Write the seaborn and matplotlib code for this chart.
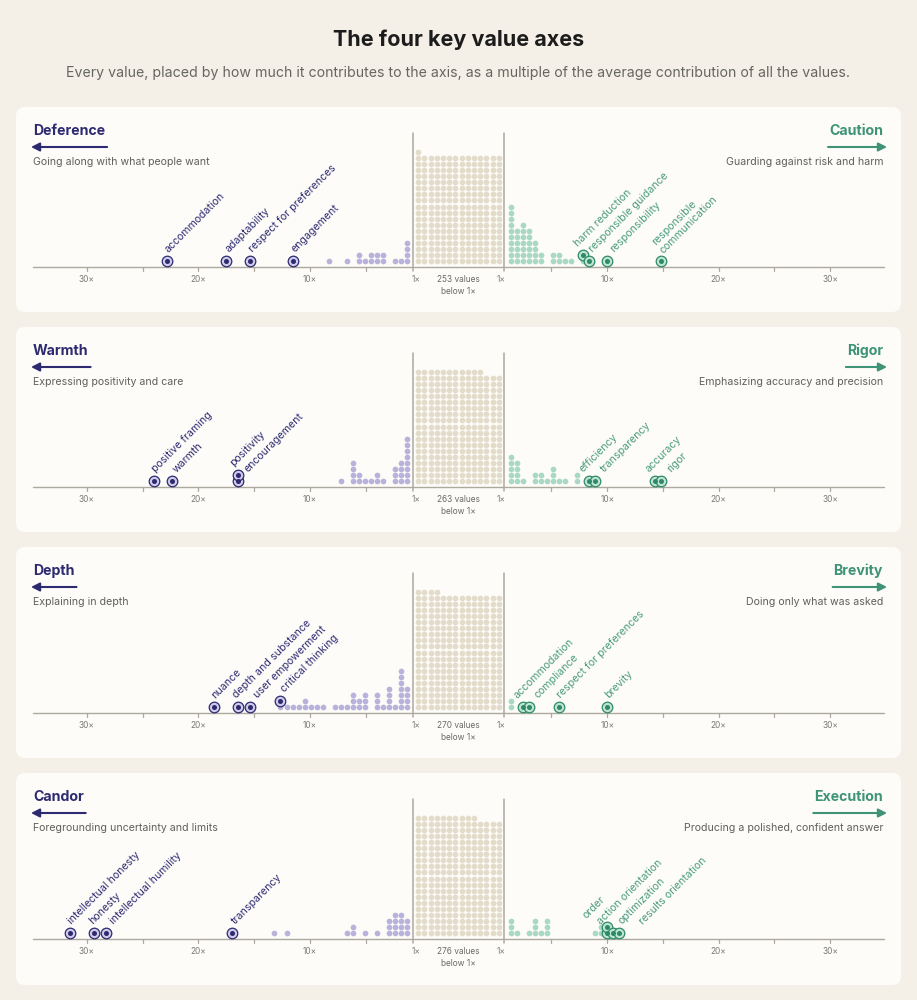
import numpy as np
import pandas as pd
import matplotlib
matplotlib.use("Agg")
import matplotlib.pyplot as plt
import seaborn as sns
from matplotlib.patches import FancyBboxPatch
from matplotlib.transforms import IdentityTransform

# ---- values (multiples of the average contribution) ----
titles_left = ["Deference", "Warmth", "Depth", "Candor"]
titles_right = ["Caution", "Rigor", "Brevity", "Execution"]
subs_left = ["Going along with what people want", "Expressing positivity and care",
             "Explaining in depth", "Foregrounding uncertainty and limits"]
subs_right = ["Guarding against risk and harm", "Emphasizing accuracy and precision",
              "Doing only what was asked", "Producing a polished, confident answer"]
below_one = [253, 263, 270, 276]

deference_bins = [8.5, 6.9, 5.8, 5.2, 4.7, 4.2, 3.6, 2.5, 1.9, 1.4]
deference_counts = [1, 1, 2, 1, 2, 2, 2, 1, 1, 4]
deference_names = ["accommodation", "adaptability", "respect for preferences", "engagement"]
deference_values = [22.8, 17.3, 15.1, 11.8]

caution_bins = [1.3, 1.8, 2.3, 2.9, 3.4, 4.0, 5.0, 5.6, 6.1, 6.6, 7.8]
caution_counts = [10, 6, 7, 6, 4, 2, 2, 2, 1, 1, 1]
caution_names = ["harm reduction", "responsible guidance", "responsibility",
                 "responsible\ncommunication"]
caution_values = [7.8, 8.4, 10.0, 15.0]

warmth_bins = [7.4, 6.3, 5.8, 5.2, 4.7, 4.2, 3.6, 2.5, 1.9, 1.4]
warmth_counts = [1, 4, 2, 1, 1, 2, 1, 3, 4, 8]
warmth_names = ["positive framing", "warmth", "encouragement", "positivity"]
warmth_values = [23.8, 22.3, 16.2, 16.2]

rigor_bins = [1.3, 1.8, 2.3, 3.4, 4.0, 4.5, 5.0, 5.6, 6.1, 7.3]
rigor_counts = [5, 4, 1, 2, 2, 1, 3, 1, 1, 2]
rigor_names = ["efficiency", "transparency", "accuracy", "rigor"]
rigor_values = [8.4, 8.9, 14.3, 14.9]

depth_bins = [12.6, 12.1, 11.5, 11.0, 10.5, 9.9, 9.4, 8.9, 7.8, 7.2, 6.7, 6.2, 5.6, 5.1,
              4.0, 3.5, 2.9, 2.4, 1.9, 1.3]
depth_counts = [1, 1, 1, 1, 2, 1, 1, 1, 1, 1, 1, 3, 2, 3, 3, 1, 4, 1, 7, 4]
depth_names = ["nuance", "depth and substance", "user empowerment", "critical thinking"]
depth_values = [18.5, 16.4, 15.3, 12.6]

brevity_bins = [1.3]
brevity_counts = [2]
brevity_names = ["accommodation", "compliance", "respect for preferences", "brevity"]
brevity_values = [2.4, 2.9, 5.6, 10.0]

candor_bins = [13.2, 12.1, 6.7, 6.2, 5.1, 4.0, 2.9, 2.4, 1.9, 1.3]
candor_counts = [1, 1, 1, 2, 1, 1, 3, 4, 4, 3]
candor_names = ["intellectual honesty", "honesty", "intellectual humility", "transparency"]
candor_values = [31.5, 29.3, 28.2, 16.7]

execution_bins = [1.3, 1.9, 2.9, 3.5, 4.0, 4.5, 8.9, 9.4]
execution_counts = [3, 1, 1, 3, 1, 3, 1, 2]
execution_names = ["action orientation", "order", "optimization", "results orientation"]
execution_values = [10.0, 10.0, 10.5, 11.0]

left_sides = [
    (deference_bins, deference_counts, deference_names, deference_values),
    (warmth_bins, warmth_counts, warmth_names, warmth_values),
    (depth_bins, depth_counts, depth_names, depth_values),
    (candor_bins, candor_counts, candor_names, candor_values),
]
right_sides = [
    (caution_bins, caution_counts, caution_names, caution_values),
    (rigor_bins, rigor_counts, rigor_names, rigor_values),
    (brevity_bins, brevity_counts, brevity_names, brevity_values),
    (execution_bins, execution_counts, execution_names, execution_values),
]
tick_values = [5, 10, 15, 20, 25, 30]

# ---- layout / style ----
W, H = 917, 1000
CX = 458.5          # centre of the cards, px
PX = 11.15          # px per 1x
OFF = 3.34          # gap between the middle and the value scale
G0, DX = 52 / PX, 6 / PX
ROW0, DY = 5.6, 6.1
BLOCK_DX = 6.2 / PX
ONE_X = 4.04
PANEL_TOP = [107, 327, 547, 773]
PANEL_BOTTOM = [312, 532, 758, 985]
AXIS_Y = [267, 487, 713, 939]

BG = "#f4f0e8"
CARD = "#fdfcf9"
NAVY = "#2d2a70"
GREEN = "#3f9478"
GREEN_TXT = "#4a9a80"
LAV = "#b9b3dc"
LAV_RING = "#cfcbe9"
MINT = "#a9d8c4"
MINT_RING = "#c0e4d4"
DARK_GREEN = "#2e8a68"
BEIGE = "#e3dccb"
GREY = "#aea99f"
TXT = "#5f5f5f"
DOT_S = 17

sns.set_theme(style="white")
plt.rcParams["font.family"] = ["Inter", "DejaVu Sans"]


def col_of(v):
    return int(round((v + OFF - G0) / DX))


def stack(bins, counts, names, values, sign):
    height = {}
    light = []
    for b, c in zip(bins, counts):
        k = col_of(b)
        for _ in range(c):
            r = height.get(k, 0)
            light.append((sign * (G0 + k * DX), ROW0 + r * DY))
            height[k] = r + 1
    marked = []
    for n, v in zip(names, values):
        k = col_of(v)
        r = height.get(k, 0)
        marked.append((n, sign * (G0 + k * DX), ROW0 + r * DY))
        height[k] = r + 1
    return pd.DataFrame(light, columns=["x", "y"]), marked


def spread(cs, gap):
    order = np.argsort(cs)
    blocks = []
    for i in order:
        blocks.append([[i], cs[i]])
        while len(blocks) > 1:
            a, b = blocks[-2], blocks[-1]
            if b[1] - (a[1] + gap * (len(a[0]) - 1)) >= gap:
                break
            members = a[0] + b[0]
            start = np.mean([cs[m] - gap * j for j, m in enumerate(members)])
            blocks[-2:] = [[members, start]]
    out = np.empty(len(cs))
    for members, start in blocks:
        for j, m in enumerate(members):
            out[m] = start + gap * j
    return out


def draw_side(ax, side, sign, light_c, ring_c, dark_c, txt_c):
    light, marked = stack(*side, sign)
    sns.scatterplot(data=light, x="x", y="y", ax=ax, s=DOT_S, color=light_c,
                    linewidth=0, legend=False, zorder=3)
    mdf = pd.DataFrame([(m[1], m[2]) for m in marked], columns=["x", "y"])
    sns.scatterplot(data=mdf, x="x", y="y", ax=ax, s=58, color=ring_c,
                    edgecolor=dark_c, linewidth=0.9, legend=False, zorder=4)
    sns.scatterplot(data=mdf, x="x", y="y", ax=ax, s=13, color=dark_c,
                    linewidth=0, legend=False, zorder=5)
    xs = mdf["x"].to_numpy() * PX + 2.5
    ys = mdf["y"].to_numpy() + 8.5
    cs = spread(xs - ys, 21)
    for (name, _, _), c, y in zip(marked, cs, ys):
        ax.text((c + y) / PX, y, name, rotation=45, rotation_mode="anchor",
                ha="left", va="baseline", fontsize=7.6, color=txt_c,
                linespacing=1.15, zorder=6)


fig = plt.figure(figsize=(W / 100, H / 100), dpi=100, facecolor=BG)
fig.text(0.5, 1 - 40 / H, "The four key value axes", ha="center", va="center",
         fontsize=15.5, weight="bold", color="#1c1c1c")
fig.text(0.5, 1 - 73 / H,
         "Every value, placed by how much it contributes to the axis, as a multiple "
         "of the average contribution of all the values.",
         ha="center", va="center", fontsize=10.2, color="#666660")

arrows = []
for i in range(4):
    top, bot, axy = PANEL_TOP[i], PANEL_BOTTOM[i], AXIS_Y[i]
    fig.add_artist(FancyBboxPatch((16, H - bot), 885, bot - top,
                                  boxstyle="round,pad=0,rounding_size=9",
                                  transform=IdentityTransform(), fc=CARD,
                                  ec="none", zorder=-5))
    ax = fig.add_axes([16 / W, (H - bot) / H, 885 / W, (bot - top) / H])
    ax.set_xlim(-442.5 / PX, 442.5 / PX)
    ax.set_ylim(-(bot - axy), axy - top)
    ax.axis("off")

    # axis, ticks, 1x lines
    ax.plot([-425 / PX, 425 / PX], [0, 0], color=GREY, lw=1.0, zorder=2)
    for v in tick_values:
        for sign in (-1, 1):
            x = sign * (v + OFF)
            ax.plot([x, x], [0, -4], color=GREY, lw=0.9, zorder=2)
            if v % 10 == 0:
                ax.text(x, -13, f"{v}×", ha="center", va="center", fontsize=6,
                        color="#7a7a7a")
    line_top = axy - top - 26
    for sign in (-1, 1):
        ax.plot([sign * ONE_X, sign * ONE_X], [-4, line_top], color=GREY, lw=1.1,
                zorder=2)
        ax.text(sign * 3.85, -13, "1×", ha="center", va="center", fontsize=6,
                color="#7a7a7a")
    ax.text(0, -13, f"{below_one[i]} values", ha="center", va="center",
            fontsize=6, color="#6a6a6a")
    ax.text(0, -25, "below 1×", ha="center", va="center", fontsize=6,
            color="#6a6a6a")

    # the block of values below 1x
    j = np.arange(below_one[i])
    block = pd.DataFrame({"x": (j % 14 - 6.5) * BLOCK_DX, "y": ROW0 + (j // 14) * DY})
    sns.scatterplot(data=block, x="x", y="y", ax=ax, s=DOT_S, color=BEIGE,
                    linewidth=0, legend=False, zorder=3)

    draw_side(ax, left_sides[i], -1, LAV, LAV_RING, NAVY, NAVY)
    draw_side(ax, right_sides[i], 1, MINT, MINT_RING, DARK_GREEN, GREEN_TXT)

    # headers
    tl = ax.text((33 - CX) / PX, axy - (top + 24), titles_left[i], ha="left",
                 va="center", fontsize=10.2, weight="bold", color=NAVY)
    tr = ax.text((883 - CX) / PX, axy - (top + 24), titles_right[i], ha="right",
                 va="center", fontsize=10.2, weight="bold", color=GREEN)
    ax.text((33 - CX) / PX, axy - (top + 55), subs_left[i], ha="left",
            va="center", fontsize=7.6, color=TXT)
    ax.text((883 - CX) / PX, axy - (top + 55), subs_right[i], ha="right",
            va="center", fontsize=7.6, color=TXT)
    arrows.append((ax, tl, tr, axy - (top + 40)))

fig.canvas.draw()
renderer = fig.canvas.get_renderer()
for ax, tl, tr, y in arrows:
    bl = tl.get_window_extent(renderer)
    br = tr.get_window_extent(renderer)
    ax.annotate("", xy=((bl.x0 - 2 - CX) / PX, y), xytext=((bl.x1 + 2 - CX) / PX, y),
                arrowprops=dict(arrowstyle="-|>,head_length=0.55,head_width=0.28",
                                lw=1.5, color=NAVY, shrinkA=0, shrinkB=0,
                                mutation_scale=9))
    ax.annotate("", xy=((br.x1 + 4 - CX) / PX, y), xytext=((br.x0 - 1 - CX) / PX, y),
                arrowprops=dict(arrowstyle="-|>,head_length=0.55,head_width=0.28",
                                lw=1.5, color=GREEN, shrinkA=0, shrinkB=0,
                                mutation_scale=9))

fig.savefig("out.png", dpi=100, facecolor=BG)
